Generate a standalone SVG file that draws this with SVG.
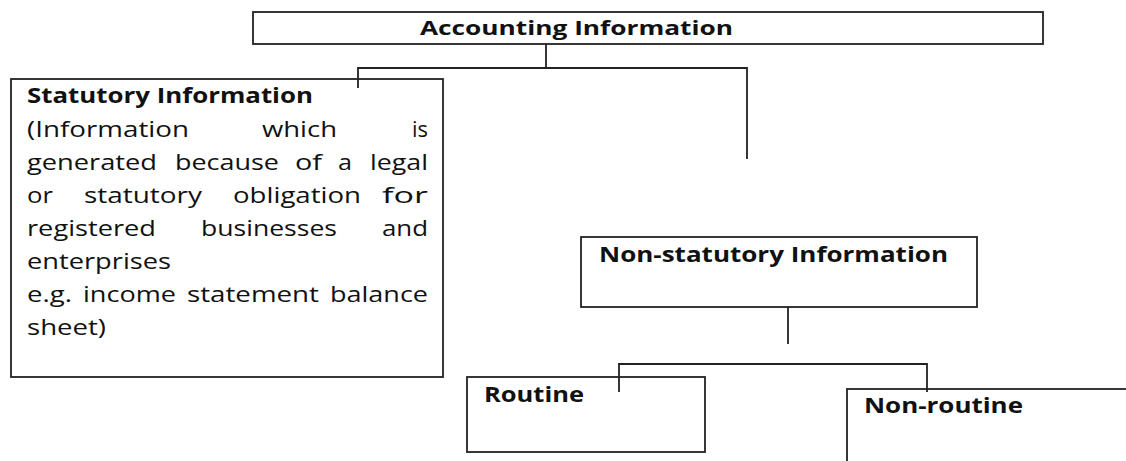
<svg xmlns="http://www.w3.org/2000/svg" width="1126" height="461" viewBox="0 0 1126 461">
<style>
.box{fill:#fff;stroke:#222;stroke-width:1.8}
.ln{fill:none;stroke:#222;stroke-width:1.8}
.b{font-family:"Open Sans","Noto Sans",sans-serif;font-weight:bold;font-size:21px;fill:#111}
.t{font-size:20px}
.r{font-family:"Open Sans","Noto Sans",sans-serif;font-size:22px;fill:#111}
</style>
<rect width="1126" height="461" fill="#fff"/>
<g id="accounting">
<rect class="box" x="253" y="12" width="790" height="32"/>
<text class="b t" x="420" y="35" textLength="313" lengthAdjust="spacingAndGlyphs">Accounting Information</text>
</g>
<g id="statutory">
<rect class="box" x="11" y="79" width="432" height="298"/>
<text class="b" x="27" y="103" textLength="286" lengthAdjust="spacingAndGlyphs">Statutory Information</text>
<text class="r" x="27" y="137" textLength="162" lengthAdjust="spacingAndGlyphs">(Information</text>
<text class="r" x="262" y="137" textLength="75" lengthAdjust="spacingAndGlyphs">which</text>
<text class="r" x="412" y="137" textLength="16" lengthAdjust="spacingAndGlyphs">is</text>
<text class="r" x="27" y="170" textLength="130" lengthAdjust="spacingAndGlyphs">generated</text>
<text class="r" x="175" y="170" textLength="104" lengthAdjust="spacingAndGlyphs">because</text>
<text class="r" x="295" y="170" textLength="27" lengthAdjust="spacingAndGlyphs">of</text>
<text class="r" x="338" y="170" textLength="14" lengthAdjust="spacingAndGlyphs">a</text>
<text class="r" x="370" y="170" textLength="58" lengthAdjust="spacingAndGlyphs">legal</text>
<text class="r" x="27" y="203" textLength="26" lengthAdjust="spacingAndGlyphs">or</text>
<text class="r" x="84" y="203" textLength="118" lengthAdjust="spacingAndGlyphs">statutory</text>
<text class="r" x="233" y="203" textLength="128" lengthAdjust="spacingAndGlyphs">obligation</text>
<text class="r" x="382" y="203" textLength="46" lengthAdjust="spacingAndGlyphs">for</text>
<text class="r" x="27" y="236" textLength="129" lengthAdjust="spacingAndGlyphs">registered</text>
<text class="r" x="201" y="236" textLength="136" lengthAdjust="spacingAndGlyphs">businesses</text>
<text class="r" x="382" y="236" textLength="46" lengthAdjust="spacingAndGlyphs">and</text>
<text class="r" x="27" y="269" textLength="144" lengthAdjust="spacingAndGlyphs">enterprises</text>
<text class="r" x="27" y="302" textLength="45" lengthAdjust="spacingAndGlyphs">e.g.</text>
<text class="r" x="83" y="302" textLength="93" lengthAdjust="spacingAndGlyphs">income</text>
<text class="r" x="187" y="302" textLength="132" lengthAdjust="spacingAndGlyphs">statement</text>
<text class="r" x="330" y="302" textLength="98" lengthAdjust="spacingAndGlyphs">balance</text>
<text class="r" x="27" y="335" textLength="79" lengthAdjust="spacingAndGlyphs">sheet)</text>
</g>
<g id="nonstatutory">
<rect class="box" x="581" y="237" width="396" height="70"/>
<text class="b" x="599" y="262" textLength="349" lengthAdjust="spacingAndGlyphs">Non-statutory Information</text>
</g>
<g id="routine">
<rect class="box" x="467" y="377" width="238" height="75"/>
<text class="b" x="484" y="402" textLength="100" lengthAdjust="spacingAndGlyphs">Routine</text>
</g>
<g id="nonroutine">
<rect class="box" x="847" y="389" width="300" height="100"/>
<text class="b" x="864" y="413" textLength="159" lengthAdjust="spacingAndGlyphs">Non-routine</text>
</g>
<g id="connectors">
<path class="ln" d="M546 44V68M358 88V68H747V159"/>
<path class="ln" d="M788 307V344"/>
<path class="ln" d="M619 392V364H927V392"/>
</g>
</svg>
